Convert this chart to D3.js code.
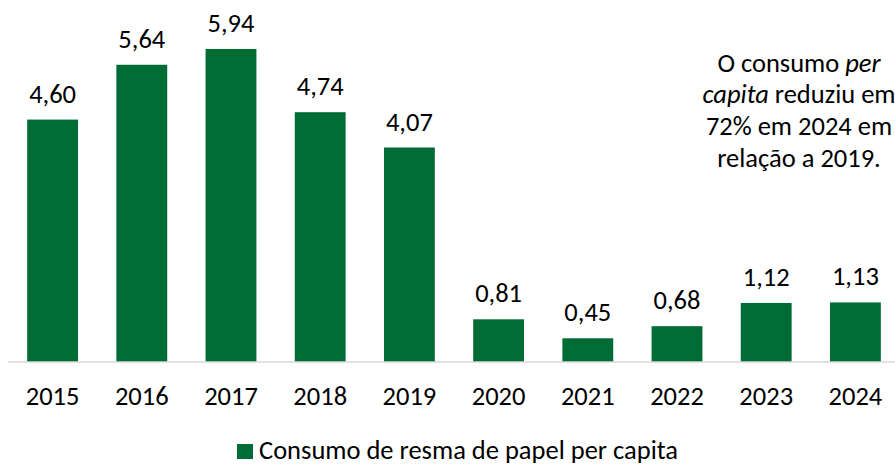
<!DOCTYPE html>
<html>
<head>
<meta charset="utf-8">
<script src="https://cdn.jsdelivr.net/npm/d3@7"></script>
<style>
  body { margin: 0; background: #fff; }
  svg { display: block; font-family: Carlito, Lato, "Open Sans", sans-serif; }
</style>
</head>
<body>
<svg id="chart" width="895" height="465"></svg>
<script>
// data
let years = ["2015", "2016", "2017", "2018", "2019", "2020", "2021", "2022", "2023", "2024"];
let consumo = [4.60, 5.64, 5.94, 4.74, 4.07, 0.81, 0.45, 0.68, 1.12, 1.13];
let seriesName = "Consumo de resma de papel per capita";
let noteLines = [
  [{t: "O consumo ", i: false}, {t: "per", i: true}],
  [{t: "capita", i: true}, {t: " reduziu em", i: false}],
  [{t: "72% em 2024 em", i: false}],
  [{t: "relação a 2019.", i: false}]
];

let green = "#006C35";
let fontSize = 26.5;
let svg = d3.select("#chart");

let x = d3.scaleBand()
  .domain(years)
  .range([8, 900])
  .paddingInner(0.43)
  .paddingOuter(0.215);

let y = d3.scaleLinear()
  .domain([0, 6])
  .range([362, 362 - 6 * 52.7]);

let fmt = v => d3.format(".2f")(v).replace(".", ",");

// bars
svg.append("g").selectAll("rect")
  .data(years)
  .join("rect")
  .attr("x", d => x(d))
  .attr("width", x.bandwidth())
  .attr("y", (d, i) => y(consumo[i]))
  .attr("height", (d, i) => y(0) - y(consumo[i]))
  .attr("fill", green);

// value labels
svg.append("g").selectAll("text")
  .data(years)
  .join("text")
  .attr("x", d => x(d) + x.bandwidth() / 2)
  .attr("y", (d, i) => y(consumo[i]) - 17)
  .attr("text-anchor", "middle")
  .attr("font-size", fontSize)
  .attr("fill", "#000")
  .text((d, i) => fmt(consumo[i]));

// x axis
let xAxis = svg.append("g")
  .attr("transform", "translate(0," + y(0) + ")")
  .call(d3.axisBottom(x).tickSize(0).tickPadding(24));
xAxis.select(".domain").attr("stroke", "#d9d9d9").attr("stroke-width", 1.5).attr("d", "M8,0H895");
xAxis.selectAll("text")
  .attr("font-size", fontSize)
  .attr("font-family", "Carlito, Lato, 'Open Sans', sans-serif")
  .attr("fill", "#000");

// annotation
let note = svg.append("text")
  .attr("text-anchor", "middle")
  .attr("font-size", fontSize)
  .attr("fill", "#000");
noteLines.forEach((line, li) => {
  line.forEach((part, pi) => {
    let ts = note.append("tspan").text(part.t);
    if (pi == 0) ts.attr("x", 799).attr("y", 71.5 + li * 31.7);
    if (part.i) ts.attr("font-style", "italic");
  });
});

// legend (the reference also clips descenders at the bottom edge)
let legend = svg.append("g").attr("transform", "translate(237,444)");
legend.append("rect").attr("width", 16).attr("height", 15).attr("fill", green);
legend.append("text")
  .attr("x", 22)
  .attr("y", 14.5)
  .attr("font-size", 26.5)
  .attr("fill", "#000")
  .text(seriesName);
</script>
</body>
</html>
